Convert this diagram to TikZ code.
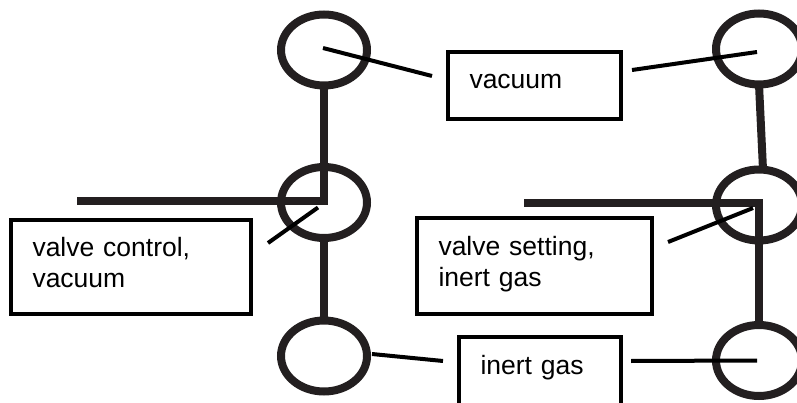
\documentclass[tikz,border=0pt]{standalone}
\usepackage{fontspec}
\setmainfont{Liberation Sans}
\usetikzlibrary{positioning,shapes.geometric}
\definecolor{pipecolor}{HTML}{231F20}

\begin{document}
\begin{tikzpicture}[
    x=1pt, y=-1pt,
    every node/.style={font=\fontsize{26.5}{31}\selectfont, outer sep=0pt},
    valve/.style={draw=pipecolor, ellipse, line width=8pt, inner sep=0pt, minimum width=86pt, minimum height=71pt},
    box/.style={draw=black, line width=4pt, align=left, anchor=north west, inner xsep=21.5pt, inner ysep=0pt},
    pipe/.style={draw=pipecolor, line width=8pt},
    leader/.style={draw=black, line width=4pt}
]
\clip (0,0) rectangle (797,403);
% valves, left column
\node[valve] (vactop) at (324,50) {};
\node[valve, below=81.5pt of vactop] (vacmid) {};
\node[valve, below=82.5pt of vacmid] (vacbot) {};
% valves, right column
\node[valve] (gastop) at (759,49) {};
\node[valve, below=85pt of gastop] (gasmid) {};
\node[valve, below=84.5pt of gasmid] (gasbot) {};
% labels
\node[box, text width=197pt, text height=37pt, text depth=57pt] (controlbox) at (11,220) {valve control,\\vacuum};
\node[box, text width=130pt, text height=37pt, text depth=30pt] (vacuumbox) at (448,52) {vacuum};
\node[box, text width=192pt, text height=37pt, text depth=59pt] (settingbox) at (417,218) {valve setting,\\inert gas};
\node[box, text width=119pt, text height=37pt, text depth=51pt] (gasbox) at (459,337) {inert gas};
% free ends
\coordinate (controlin) at (77,201);
\coordinate (settingin) at (524,203);
% pipes
\draw[pipe] (vactop.south) |- (controlin);
\draw[pipe] (vacmid.south) -- (vacbot.north);
\draw[pipe] (gastop.south) -- ([xshift=4pt]gasmid.north);
\draw[pipe] (settingin) -| (gasbot.north);
% leaders
\coordinate (vacuumleft) at (432,76);
\coordinate (vacuumright) at (632,70);
\coordinate (controlend) at (268,243);
\coordinate (settingend) at (668,242);
\coordinate (gasleft) at (443,361);
\coordinate (gasright) at (631,361);
\draw[leader] ([shift={(-1,-2)}]vactop.center) -- (vacuumleft);
\draw[leader] (vacuumright) -- ([shift={(-2,3)}]gastop.center);
\draw[leader] (controlend) -- ([shift={(-6,5)}]vacmid.center);
\draw[leader] (settingend) -- ([shift={(-6,3)}]gasmid.center);
\draw[leader] ([shift={(5,-2)}]vacbot.east) -- (gasleft);
\draw[leader] (gasright) -- ([xshift=-2pt]gasbot.center);
\end{tikzpicture}
\end{document}
